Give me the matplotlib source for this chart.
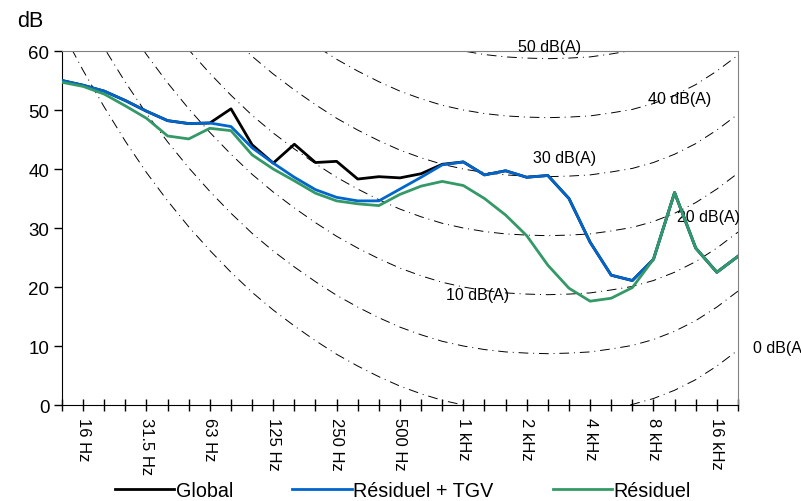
import numpy as np
import matplotlib.pyplot as plt

plt.rcParams['font.family'] = ['Liberation Sans', 'DejaVu Sans']

# third-octave bands 12.5 Hz .. 20 kHz
bands = ["12.5 Hz", "16 Hz", "20 Hz", "25 Hz", "31.5 Hz", "40 Hz", "50 Hz", "63 Hz", "80 Hz",
         "100 Hz", "125 Hz", "160 Hz", "200 Hz", "250 Hz", "315 Hz", "400 Hz", "500 Hz",
         "630 Hz", "800 Hz", "1 kHz", "1.25 kHz", "1.6 kHz", "2 kHz", "2.5 kHz", "3.15 kHz",
         "4 kHz", "5 kHz", "6.3 kHz", "8 kHz", "10 kHz", "12.5 kHz", "16 kHz", "20 kHz"]
shown = ["16 Hz", "31.5 Hz", "63 Hz", "125 Hz", "250 Hz", "500 Hz",
         "1 kHz", "2 kHz", "4 kHz", "8 kHz", "16 kHz"]

glob = [55.0, 54.2, 53.2, 51.6, 49.8, 48.2, 47.7, 47.8, 50.2, 44.1, 41.0, 44.2, 41.1, 41.3,
        38.3, 38.7, 38.5, 39.2, 40.8, 41.2, 39.0, 39.7, 38.6, 38.9, 35.0, 27.6, 22.0, 21.1,
        24.7, 36.0, 26.6, 22.5, 25.2]
res_tgv = [55.0, 54.2, 53.2, 51.6, 49.8, 48.2, 47.7, 47.8, 47.2, 43.6, 41.0, 38.6, 36.5, 35.2,
           34.6, 34.6, 36.6, 38.6, 40.7, 41.2, 39.0, 39.7, 38.6, 38.9, 35.0, 27.6, 22.0, 21.1,
           24.7, 36.0, 26.6, 22.5, 25.2]
res = [54.7, 54.0, 52.7, 50.7, 48.6, 45.6, 45.1, 46.9, 46.5, 42.4, 40.0, 38.0, 35.9, 34.6,
       34.1, 33.8, 35.7, 37.1, 37.9, 37.2, 35.0, 32.2, 28.7, 23.7, 19.8, 17.6, 18.1, 19.9,
       24.7, 36.0, 26.6, 22.5, 25.2]

# A-weighting per band (dB)
a_weight = [-63.4, -56.7, -50.5, -44.7, -39.4, -34.6, -30.2, -26.2, -22.5, -19.1, -16.1,
            -13.4, -10.9, -8.6, -6.6, -4.8, -3.2, -1.9, -0.8, 0.0, 0.6, 1.0, 1.2, 1.3, 1.2,
            1.0, 0.5, -0.1, -1.1, -2.5, -4.3, -6.6, -9.3]
iso_levels = [-10, 0, 10, 20, 30, 40, 50]
iso_labels = ["50 dB(A)", "40 dB(A)", "30 dB(A)", "20 dB(A)", "10 dB(A)", "0 dB(A)"]
iso_label_pos = [(21.6, 60.8), (27.75, 51.9), (22.3, 42.0), (29.1, 32.0), (18.2, 18.8), (32.7, 9.7)]

x = np.arange(len(bands))
A = np.array(a_weight)

fig = plt.figure(figsize=(8.01, 5.02), dpi=100)
ax = fig.add_axes([0.0774, 0.1912, 0.8439, 0.7052])

for n in iso_levels:
    ax.plot(x, n + 10 - A, color='black', lw=0.7, dashes=(10, 5, 1, 5), zorder=1)
for lab, (px, py) in zip(iso_labels, iso_label_pos):
    ax.text(px, py, lab, fontsize=11.5, ha='left', va='center', clip_on=False)

ax.plot(x, glob, color='black', lw=2, label='Global', zorder=3)
ax.plot(x, res_tgv, color='#0066CC', lw=2, label='Résiduel + TGV', zorder=4)
ax.plot(x, res, color='#339966', lw=2, label='Résiduel', zorder=5)

ax.set_xlim(0, 32)
ax.set_ylim(0, 60)
ax.set_yticks(range(0, 61, 10))
ax.set_xticks(x, minor=False)
ax.set_xticklabels([b if b in shown else "" for b in bands], rotation=270, fontsize=12)
ax.tick_params(axis='x', direction='inout', length=9, width=1, pad=4)
ax.tick_params(axis='y', direction='out', length=6, width=1, labelsize=13.5, pad=3)
for s in ['top', 'right']:
    ax.spines[s].set_color('#808080')
for s in ['left', 'bottom']:
    ax.spines[s].set_color('black')

fig.text(0.021, 0.957, 'dB', fontsize=15.5, va='center', ha='left')

fig.legend(loc='center', ncol=3, frameon=False, fontsize=14.2, bbox_to_anchor=(0.503, 0.021),
           handlelength=3.0, handletextpad=0.08, columnspacing=3.0)

fig.savefig('out.png', dpi=100)
